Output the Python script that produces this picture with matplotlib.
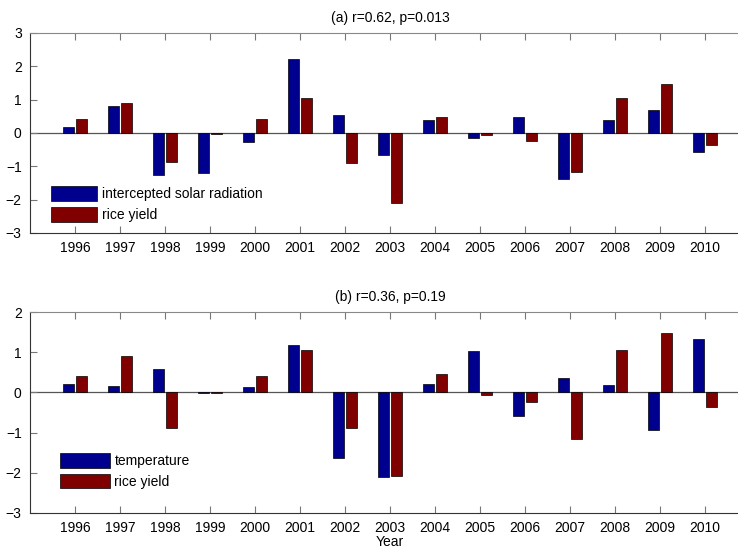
#!/usr/bin/env python3
"""
Grouped bar chart: standardized anomalies of intercepted solar radiation /
temperature against rice yield, 1996-2010.
"""

import numpy as np
import matplotlib
matplotlib.use('Agg')
import matplotlib.pyplot as plt

plt.rcParams['font.family'] = ['Liberation Sans', 'DejaVu Sans']

years = list(range(1996, 2011))

solar_radiation = [0.18, 0.80, -1.27, -1.19, -0.28, 2.23, 0.54, -0.67,
                   0.40, -0.15, 0.47, -1.37, 0.40, 0.70, -0.56]
temperature = [0.22, 0.17, 0.58, -0.01, 0.13, 1.17, -1.64, -2.12,
               0.20, 1.04, -0.59, 0.37, 0.18, -0.95, 1.34]
rice_yield = [0.42, 0.90, -0.88, -0.02, 0.41, 1.06, -0.90, -2.09,
              0.47, -0.07, -0.23, -1.17, 1.05, 1.47, -0.37]

titles = ['(a) r=0.62, p=0.013', '(b) r=0.36, p=0.19']
legend_labels = [['intercepted solar radiation', 'rice yield'],
                 ['temperature', 'rice yield']]

BLUE = '#00008f'
RED = '#800000'


def draw_panel(ax, climate, yield_, title, labels, ylim, leg_anchor, handle_len):
    x = np.array(years)
    w = 0.24
    ax.bar(x - 0.14, climate, w, color=BLUE, edgecolor='black', linewidth=0.5,
           label=labels[0])
    ax.bar(x + 0.14, yield_, w, color=RED, edgecolor='black', linewidth=0.5,
           label=labels[1])
    ax.axhline(0, color='#555555', linewidth=0.9, zorder=0.5)

    ax.set_xlim(1995, 2011)
    ax.set_ylim(*ylim)
    ax.set_xticks(years)
    ax.set_xticklabels([str(y) for y in years])
    ax.set_yticks(range(ylim[0], ylim[1] + 1))
    ax.set_yticklabels([str(v).replace('-', '\u2212') for v in range(ylim[0], ylim[1] + 1)])
    ax.tick_params(direction='in', length=5, width=0.8, color='#777777',
                   labelsize=10, top=True, right=True, pad=6)
    for side in ['top', 'right']:
        ax.spines[side].set_color('#888888')
    for side in ['bottom', 'left']:
        ax.spines[side].set_color('#333333')
    ax.set_title(title, fontsize=10, pad=8)

    ax.legend(loc='lower left', bbox_to_anchor=leg_anchor, frameon=False,
              fontsize=10, handlelength=handle_len, handleheight=1.25,
              handletextpad=0.35, labelspacing=0.4, borderpad=0,
              borderaxespad=0)


fig = plt.figure(figsize=(7.38, 5.49), dpi=100)
W, H = 738, 549

ax1 = fig.add_axes([30 / W, (H - 233) / H, 720 / W, 200 / H])
ax2 = fig.add_axes([30 / W, (H - 512.7) / H, 720 / W, 200.5 / H])

draw_panel(ax1, solar_radiation, rice_yield, titles[0], legend_labels[0],
           (-3, 3), (0.029, 0.055), 3.3)
draw_panel(ax2, temperature, rice_yield, titles[1], legend_labels[1],
           (-3, 2), (0.041, 0.12), 3.6)
ax2.set_xlabel('Year', fontsize=10, labelpad=0)

fig.savefig('out.png', dpi=100)
